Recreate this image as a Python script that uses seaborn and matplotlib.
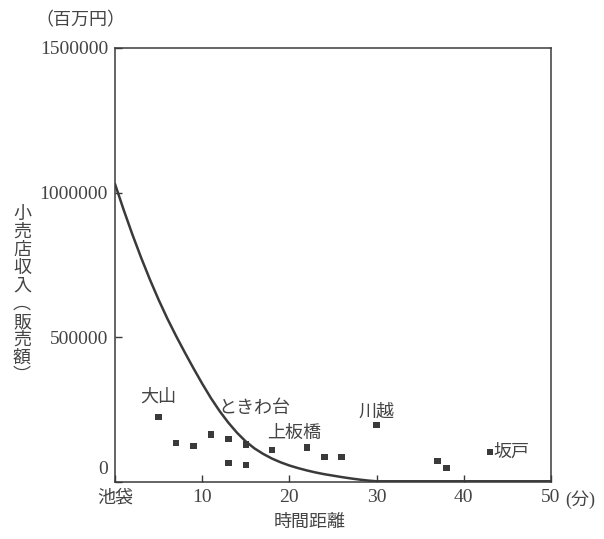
import numpy as np
import pandas as pd
import matplotlib
matplotlib.use("Agg")
import matplotlib.pyplot as plt
import seaborn as sns

# ---- data ----
point_x = [5, 7, 9, 11, 13, 13, 15, 15, 18, 22, 24, 26, 30, 37, 38, 43]
point_y = [224000, 134000, 124000, 165000, 148000, 65000, 58000, 130000,
           110000, 120000, 86000, 86000, 197000, 72000, 48000, 103000]

curve_x = [0, 1, 2, 3, 4, 5, 6, 7, 8, 9, 10, 11, 12, 13, 14, 15, 16, 17, 18, 19,
           20, 21, 22, 23, 24, 25, 26, 27, 28, 29, 30, 40, 50]
curve_y = [1030000, 940000, 855000, 775000, 700000, 630000, 565000, 505000,
           448000, 393000, 340000, 290000, 245000, 205000, 170000, 140000,
           116000, 97000, 81000, 68000, 57000, 48000, 40000, 33000, 27000,
           22000, 17000, 12500, 8500, 5000, 2500, 2500, 2500]

place_names = ["大山", "ときわ台", "上板橋", "川越", "坂戸"]
place_x = [5, 16, 20.5, 30, 45.5]
place_y = [295000, 255000, 170000, 245000, 103000]

x_ticks = [0, 10, 20, 30, 40, 50]
x_ticklabels = ["池袋", "10", "20", "30", "40", "50"]
y_ticks = [0, 500000, 1000000, 1500000]
y_ticklabels = ["", "500000", "1000000", "1500000"]

x_label = "時間距離"
y_label = "小売店収入（販売額）"
y_unit = "（百万円）"
x_unit = "(分)"

# ---- style ----
sns.set_style("ticks")
plt.rcParams['font.family'] = ['Liberation Serif', 'Noto Sans CJK JP', 'DejaVu Sans']
ink = "#3a3a3a"
txt = "#444444"
cjk = ['Noto Sans CJK JP', 'DejaVu Sans']
mixed = ['Liberation Serif', 'Noto Sans CJK JP', 'DejaVu Sans']

fig = plt.figure(figsize=(6.04, 5.39), dpi=100)
ax = fig.add_axes([115 / 604, 1 - 482 / 539, (551 - 115) / 604, (482 - 48) / 539])

df_pts = pd.DataFrame({"x": point_x, "y": point_y})
df_curve = pd.DataFrame({"x": curve_x, "y": curve_y})

sns.lineplot(data=df_curve, x="x", y="y", ax=ax, color=ink, linewidth=1.8,
             estimator=None, sort=False)
sns.scatterplot(data=df_pts, x="x", y="y", ax=ax, marker="s", s=22,
                color=ink, edgecolor="none")

ax.set_xlim(0, 50)
ax.set_ylim(0, 1500000)
ax.set_xticks(x_ticks)
ax.set_xticklabels(x_ticklabels)
ax.set_yticks(y_ticks)
ax.set_yticklabels(y_ticklabels)
ax.set_xlabel("")
ax.set_ylabel("")

for sp in ax.spines.values():
    sp.set_visible(True)
    sp.set_color(ink)
    sp.set_linewidth(1.1)

ax.tick_params(direction="in", length=5, width=1.0, colors=ink,
               labelcolor=txt, labelsize=14, top=False, right=False)
ax.tick_params(axis="x", pad=5)
ax.tick_params(axis="y", pad=5)
for lab in ax.get_xticklabels():
    lab.set_family(mixed)
ax.get_xticklabels()[0].set_family(cjk)
ax.get_xticklabels()[0].set_fontsize(13)

# zero label on y axis, lifted
ax.annotate("0", xy=(0, 0), xycoords="data", xytext=(-5, 9),
            textcoords="offset points", ha="right", va="center",
            fontsize=14, color=txt, family="Liberation Serif")
# unit after 50
ax.annotate(x_unit, xy=(50, 0), xycoords="data", xytext=(10, -13),
            textcoords="offset points", ha="left", va="center",
            fontsize=13, color=txt, family=mixed)
# y unit
fig.text(80 / 604, 1 - 20 / 539, y_unit, ha="center", va="center",
         fontsize=13, color=txt, family=cjk)
# x label
fig.text(310 / 604, 1 - 522 / 539, x_label, ha="center", va="center",
         fontsize=13, color=txt, family=cjk)
# vertical y label (upright characters)
ylab_v = y_label.replace("（", "︵").replace("）", "︶")
fig.text(22 / 604, 1 - 295 / 539, "\n".join(ylab_v), ha="center", va="center",
         fontsize=13, color=txt, family=cjk, linespacing=1.0)

for name, px, py in zip(place_names, place_x, place_y):
    ax.text(px, py, name, ha="center", va="center", fontsize=13,
            color=txt, family=cjk)

fig.savefig("out.png", dpi=100, facecolor="white")
